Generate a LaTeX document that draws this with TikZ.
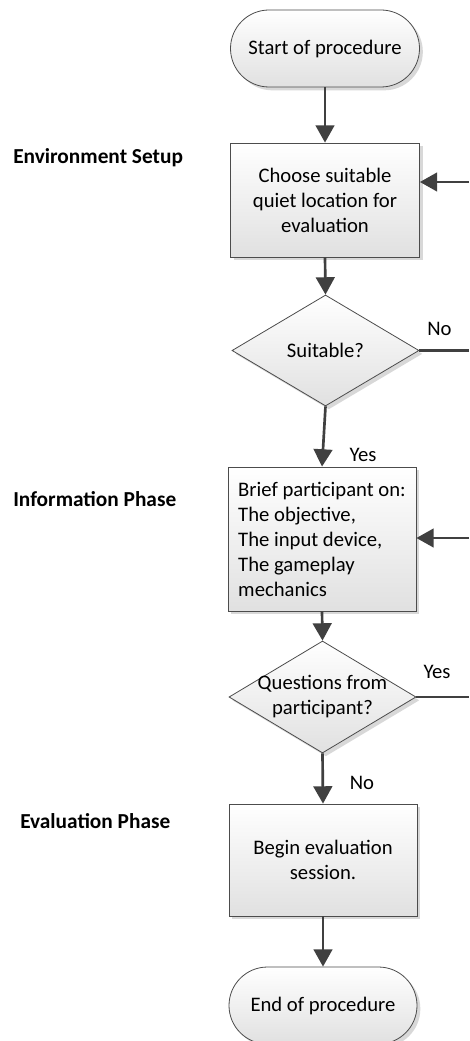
\documentclass[tikz,border=0pt]{standalone}
\usepackage{fontspec}
\setmainfont{Carlito}
\usetikzlibrary{arrows.meta,shapes.geometric,shapes.misc,shadows}
\begin{document}
\begin{tikzpicture}[x=0.75pt,y=-0.75pt,
  base/.style={draw=black!70, line width=0.6pt, top color=white, bottom color=black!12,
    drop shadow={shadow xshift=2.5pt,shadow yshift=-2.5pt,fill=black!25,opacity=0.6},
    font=\fontsize{15.5}{18.75}\selectfont, inner sep=0pt},
  term/.style={base, rounded rectangle, minimum width=141.75pt, minimum height=57.75pt},
  proc/.style={base, rectangle, minimum width=141.75pt, align=center},
  dec/.style={base, diamond, minimum width=140.25pt, minimum height=84pt},
  txt/.style={font=\fontsize{15.5}{18.75}\selectfont, inner sep=0pt, align=center},
  lab/.style={font=\bfseries\fontsize{16}{19}\selectfont, anchor=west, inner sep=0pt},
  flow/.style={draw=black!75, line width=2pt, -{Triangle[length=13pt,width=14pt]}},
  link/.style={draw=black!75, line width=2pt}
]
\useasboundingbox (0,0) rectangle (469,1041);
\fill[white] (0,0) rectangle (469,1041);

\node[term] (start) at (325,48.5) {Start of procedure};
\node[proc, minimum height=85.5pt] (b1) at (325,200) {Choose suitable\\quiet location for\\evaluation};
\node[dec, minimum height=83.25pt] (d1) at (325.5,350.5) {};
\node[txt] (d1t) at (d1) {Suitable?};
\node[proc, minimum height=108pt, minimum width=141pt, align=left] (b2) at (322,539) {Brief participant on:\\The objective,\\The input device,\\The gameplay\\mechanics};
\node[dec] (d2) at (322.5,697) {};
\node[txt] (d2t) at (d2) {Questions from\\participant?};
\node[proc, minimum height=84pt, minimum width=141pt] (b3) at (323,860) {Begin evaluation\\session.};
\node[term, minimum width=141pt] (end) at (323,1005.5) {End of procedure};

\node[lab] (l1) at (13,158) {Environment Setup};
\node[lab] (l2) at (13,499) {Information Phase};
\node[lab] (l3) at (20,821) {Evaluation Phase};

\node[txt] (yes1) at (363,455) {Yes};
\node[txt] (no1) at (439.5,329) {No};
\node[txt] (yes2) at (437,672) {Yes};
\node[txt] (no2) at (362,783) {No};

\coordinate (r1) at (469,182);
\coordinate (r2) at (469,350.5);
\coordinate (r3) at (469,538);
\coordinate (r4) at (469,697);

\draw[flow] (start.south) -- (b1.north);
\draw[flow] (b1.south) -- (d1.north);
\draw[flow] (d1.south) -- (b2.north);
\draw[flow] (b2.south) -- (d2.north);
\draw[flow] (d2.south) -- (b3.north);
\draw[flow] (b3.south) -- (end.north);
\draw[link] (d1.east) -- (r2);
\draw[flow] (r1) -- (r1 -| b1.east);
\draw[flow] (r3) -- (r3 -| b2.east);
\draw[link] (d2.east) -- (r4);
\end{tikzpicture}
\end{document}
